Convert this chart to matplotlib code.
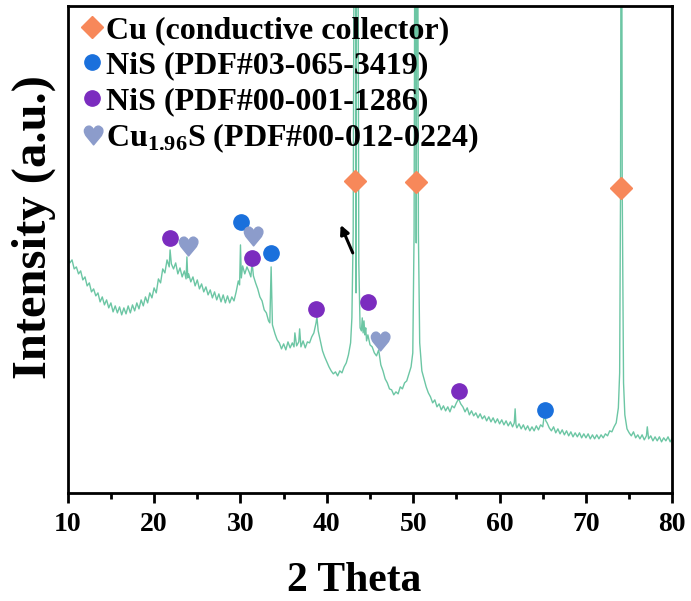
import numpy as np
import matplotlib
matplotlib.use('Agg')
import matplotlib.pyplot as plt
from matplotlib.textpath import TextPath
from matplotlib.font_manager import FontProperties
from matplotlib.path import Path

plt.rcParams['font.family'] = 'Liberation Serif'
plt.rcParams['font.weight'] = 'bold'
plt.rcParams['axes.labelweight'] = 'bold'
plt.rcParams['mathtext.fontset'] = 'custom'
plt.rcParams['mathtext.rm'] = 'Liberation Serif:bold'
plt.rcParams['mathtext.it'] = 'Liberation Serif:bold'
plt.rcParams['mathtext.bf'] = 'Liberation Serif:bold'

# XRD pattern (2 theta in degrees, intensity in a.u.)
two_theta = [
    10.00, 10.25, 10.50, 10.75, 11.00, 11.25, 11.50, 11.75, 12.00, 12.25, 12.50, 12.75,
    13.00, 13.25, 13.50, 13.75, 14.00, 14.25, 14.50, 14.75, 15.00, 15.25, 15.50, 15.75,
    16.00, 16.25, 16.50, 16.75, 17.00, 17.25, 17.50, 17.75, 18.00, 18.25, 18.50, 18.75,
    19.00, 19.25, 19.50, 19.75, 20.00, 20.25, 20.50, 20.75, 21.00, 21.25, 21.50, 21.75,
    21.85, 22.00, 22.25, 22.50, 22.75, 23.00, 23.25, 23.50, 23.70, 23.80, 23.90, 24.00,
    24.25, 24.50, 24.75, 25.00, 25.25, 25.50, 25.75, 26.00, 26.25, 26.50, 26.75, 27.00,
    27.25, 27.50, 27.75, 28.00, 28.25, 28.50, 28.75, 29.00, 29.25, 29.50, 29.75, 29.90,
    30.00, 30.10, 30.25, 30.50, 30.75, 31.00, 31.20, 31.35, 31.50, 31.75, 32.00, 32.25,
    32.50, 32.75, 33.00, 33.25, 33.40, 33.55, 33.70, 34.00, 34.25, 34.50, 34.75, 35.00,
    35.25, 35.50, 35.75, 36.00, 36.20, 36.30, 36.50, 36.75, 36.85, 37.00, 37.25, 37.50,
    37.75, 38.00, 38.25, 38.50, 38.75, 38.85, 39.00, 39.25, 39.50, 39.75, 40.00, 40.25,
    40.50, 40.75, 41.00, 41.25, 41.50, 41.75, 42.00, 42.25, 42.50, 42.75, 42.90, 43.05,
    43.20, 43.30, 43.38, 43.48, 43.58, 43.70, 43.85, 44.00, 44.10, 44.20, 44.30, 44.40,
    44.50, 44.60, 44.75, 45.00, 45.25, 45.50, 45.75, 46.00, 46.25, 46.50, 46.75, 47.00,
    47.25, 47.50, 47.75, 48.00, 48.25, 48.50, 48.75, 49.00, 49.25, 49.50, 49.75, 49.95,
    50.10, 50.25, 50.35, 50.48, 50.60, 50.75, 51.00, 51.25, 51.50, 51.75, 52.00, 52.25,
    52.50, 52.75, 53.00, 53.25, 53.50, 53.75, 54.00, 54.25, 54.50, 54.75, 55.00, 55.25,
    55.50, 55.75, 56.00, 56.25, 56.50, 56.75, 57.00, 57.25, 57.50, 57.75, 58.00, 58.25,
    58.50, 58.75, 59.00, 59.25, 59.50, 59.75, 60.00, 60.25, 60.50, 60.75, 61.00, 61.25,
    61.50, 61.70, 61.80, 61.90, 62.00, 62.25, 62.50, 62.75, 63.00, 63.25, 63.50, 63.75,
    64.00, 64.25, 64.50, 64.75, 65.00, 65.20, 65.35, 65.50, 65.75, 66.00, 66.25, 66.50,
    66.75, 67.00, 67.25, 67.50, 67.75, 68.00, 68.25, 68.50, 68.75, 69.00, 69.25, 69.50,
    69.75, 70.00, 70.25, 70.50, 70.75, 71.00, 71.25, 71.50, 71.75, 72.00, 72.25, 72.50,
    72.75, 73.00, 73.25, 73.50, 73.75, 73.90, 74.00, 74.10, 74.20, 74.35, 74.50, 74.75,
    75.00, 75.25, 75.50, 75.75, 76.00, 76.25, 76.50, 76.75, 77.00, 77.10, 77.25, 77.50,
    77.75, 78.00, 78.25, 78.50, 78.75, 79.00, 79.25, 79.50, 79.75, 80.00,
]
intensity = [
    236, 230, 233, 224, 226, 219, 222, 213, 216, 207, 210, 201,
    204, 197, 200, 191, 196, 188, 193, 185, 190, 181, 187, 180,
    186, 178, 185, 179, 187, 180, 188, 182, 190, 184, 193, 187,
    196, 190, 200, 195, 205, 200, 214, 210, 224, 220, 233, 226,
    243, 229, 224, 230, 219, 225, 216, 222, 214, 236, 215, 219,
    211, 216, 207, 213, 204, 209, 201, 206, 198, 203, 195, 201,
    193, 199, 191, 198, 190, 197, 190, 196, 192, 201, 212, 208,
    248, 215, 227, 219, 226, 221, 216, 230, 217, 210, 204, 196,
    192, 183, 180, 172, 170, 226, 168, 159, 153, 150, 144, 149,
    143, 151, 145, 150, 146, 160, 147, 151, 164, 146, 152, 145,
    151, 150, 156, 160, 170, 176, 162, 152, 142, 136, 131, 126,
    122, 119, 121, 117, 122, 120, 126, 130, 138, 150, 175, 260,
    700, 800, 200, 800, 700, 230, 165, 162, 175, 160, 172, 158,
    165, 152, 158, 148, 146, 140, 137, 143, 128, 122, 114, 110,
    104, 103, 98, 101, 99, 106, 104, 110, 112, 119, 126, 140,
    260, 800, 250, 800, 260, 150, 122, 114, 106, 100, 96, 90,
    93, 86, 89, 83, 87, 82, 86, 81, 87, 85, 90, 94,
    89, 86, 81, 85, 78, 82, 77, 80, 75, 79, 74, 77,
    72, 76, 71, 75, 70, 74, 69, 73, 68, 72, 67, 71,
    66, 70, 84, 68, 65, 69, 64, 68, 63, 67, 62, 66,
    62, 67, 63, 68, 66, 80, 72, 70, 65, 62, 66, 60,
    64, 59, 63, 58, 62, 57, 61, 56, 60, 56, 60, 55,
    59, 55, 59, 54, 58, 54, 58, 54, 58, 55, 59, 57,
    62, 61, 66, 70, 85, 120, 300, 800, 300, 110, 78, 64,
    60, 57, 61, 55, 58, 54, 58, 53, 57, 66, 54, 57,
    52, 56, 52, 56, 51, 55, 52, 56, 51, 55,
]

# phase markers (2 theta, intensity)
cu_theta = [43.26, 50.32, 74.08]
cu_int = [312, 311, 305]
nis1_theta = [30.05, 33.52, 65.27]
nis1_int = [271, 240, 83]
nis2_theta = [21.82, 31.32, 38.74, 44.76, 55.31]
nis2_int = [255, 235, 184, 191, 102]
cus_theta = [23.79, 31.32, 46.04]
cus_int = [247, 257, 152]

labels = ['Cu (conductive collector)', 'NiS (PDF#03-065-3419)',
          'NiS (PDF#00-001-1286)', 'Cu$_{1.96}$S (PDF#00-012-0224)']

# heart marker from the glyph, centred
hp = TextPath((0, 0), '\u2665', prop=FontProperties(family='DejaVu Sans'))
v = hp.vertices.copy()
v -= (v.max(axis=0) + v.min(axis=0)) / 2
heart = Path(v, hp.codes)

fig = plt.figure(figsize=(6.91, 6.01), dpi=100)
ax = fig.add_axes([0.098, 0.180, 0.875, 0.810])

ax.plot(two_theta, intensity, color='#6cc6a4', lw=1.0)
ax.plot(cu_theta, cu_int, 'D', ms=11, color='#f7885a', ls='none', label=labels[0])
ax.plot(nis1_theta, nis1_int, 'o', ms=11, color='#1a70dc', ls='none', label=labels[1])
ax.plot(nis2_theta, nis2_int, 'o', ms=11, color='#7b2cbf', ls='none', label=labels[2])
ax.plot(cus_theta, cus_int, marker=heart, ms=15, color='#8c9ccb', ls='none', label=labels[3])

ax.annotate('', xy=(41.6, 268), xytext=(43.0, 240),
            arrowprops=dict(arrowstyle='-|>', color='black', lw=2.2,
                            mutation_scale=13, shrinkA=0, shrinkB=0))

ax.set_xlim(10, 80)
ax.set_ylim(0, 487)
ax.set_xticks(range(10, 81, 10))
ax.set_xticks(range(15, 80, 10), minor=True)
ax.set_yticks([])
ax.tick_params(axis='x', which='major', direction='out', length=7, width=2, labelsize=20, pad=7)
ax.tick_params(axis='x', which='minor', direction='out', length=4, width=2)
for s in ax.spines.values():
    s.set_linewidth(2)

ax.set_xlabel('2 Theta', fontsize=30)
ax.set_ylabel('Intensity (a.u.)', fontsize=35)
ax.xaxis.set_label_coords(0.474, -0.142)
ax.yaxis.set_label_coords(-0.020, 0.546)

ax.legend(loc='upper left', bbox_to_anchor=(0.008, 1.0), frameon=False, fontsize=23,
          handlelength=0.6, handletextpad=0.15, labelspacing=0.19,
          borderaxespad=0.15, borderpad=0.15)

fig.savefig('out.png', dpi=100)
